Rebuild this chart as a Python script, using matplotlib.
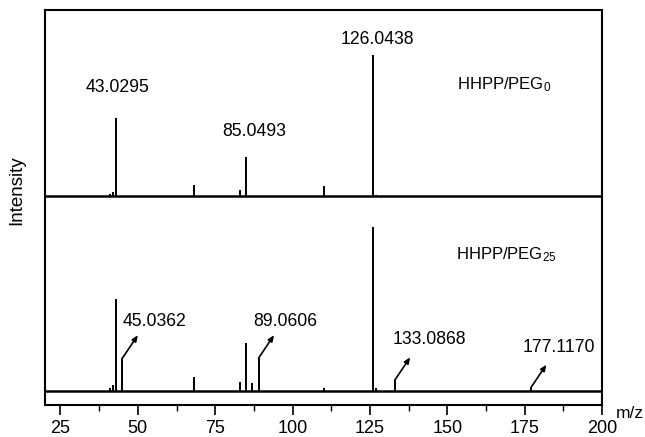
import matplotlib
matplotlib.use("Agg")
import matplotlib.pyplot as plt
from matplotlib.ticker import MultipleLocator

plt.rcParams['font.family'] = ['Liberation Sans', 'DejaVu Sans']
plt.rcParams['mathtext.fontset'] = 'custom'
plt.rcParams['mathtext.rm'] = 'Liberation Sans'
plt.rcParams['mathtext.it'] = 'Liberation Sans'

# upper spectrum: HHPP/PEG0 (relative intensity, % of base peak)
mz_peg0 = [41, 42, 43, 68, 83, 85, 110, 126, 127]
int_peg0 = [1.5, 2.5, 55, 8, 4, 28, 7, 100, 1]

# lower spectrum: HHPP/PEG25
mz_peg25 = [41, 42, 43, 45, 68, 83, 85, 87, 89, 110, 126, 127, 133, 177]
int_peg25 = [2, 3.5, 56, 20, 8.5, 5.5, 29, 5, 20, 2, 100, 2, 6.5, 2]

# peak labels
top_labels = ["43.0295", "85.0493", "126.0438"]
top_label_mz = [43.6, 87.5, 127.5]
top_label_y = [317, 273, 365]

arrow_mz = [45, 89, 133, 177]
arrow_labels = ["45.0362", "89.0606", "133.0868", "177.1170"]
arrow_text_x = [45.2, 87.2, 132.2, 174.2]
arrow_text_y = [83, 84, 66, 58]

# panel offsets / scale
base_top, scale_top = 209, 1.41
base_bot, scale_bot = 14, 1.64

fig = plt.figure(figsize=(6.45, 4.37), dpi=100)
ax = fig.add_axes([45 / 645, 1 - 405 / 437, 557 / 645, 395 / 437])

for mz, val in zip(mz_peg0, int_peg0):
    ax.vlines(mz, base_top, base_top + val * scale_top, color='black', lw=1.4)
for mz, val in zip(mz_peg25, int_peg25):
    ax.vlines(mz, base_bot, base_bot + val * scale_bot, color='black', lw=1.4)

ax.axhline(base_top, color='black', lw=1.8)
ax.axhline(base_bot, color='black', lw=1.8)

for lab, x, y in zip(top_labels, top_label_mz, top_label_y):
    ax.text(x, y, lab, ha='center', va='center', fontsize=12.7)

peak_tops = dict(zip(mz_peg25, int_peg25))
for mz, lab, tx, ty in zip(arrow_mz, arrow_labels, arrow_text_x, arrow_text_y):
    y0 = base_bot + peak_tops[mz] * scale_bot
    ax.annotate('', xy=(mz + 5, y0 + 23), xytext=(mz, y0),
                arrowprops=dict(arrowstyle='-|>,head_length=0.35,head_width=0.15',
                                color='black', lw=1.2, shrinkA=0, shrinkB=0))
    ax.text(tx, ty, lab, ha='left', va='center', fontsize=12.7)

ax.text(153.2, 320, r'HHPP/PEG$_0$', ha='left', va='center', fontsize=12)
ax.text(152.8, 150, r'HHPP/PEG$_{25}$', ha='left', va='center', fontsize=12)

ax.set_xlim(20, 200)
ax.set_ylim(0, 395)
ax.xaxis.set_major_locator(MultipleLocator(25))
ax.xaxis.set_minor_locator(MultipleLocator(12.5))
ax.tick_params(axis='x', which='major', direction='out', length=7, width=1.2,
               labelsize=13, pad=4)
ax.tick_params(axis='x', which='minor', direction='out', length=4, width=1.0)
ax.set_yticks([])
for sp in ax.spines.values():
    sp.set_linewidth(1.5)

fig.text(17 / 645, 1 - 190 / 437, 'Intensity', rotation=90, ha='center',
         va='center', fontsize=13.5)
fig.text(630 / 645, 1 - 413 / 437, 'm/z', ha='center', va='center', fontsize=12.5)

fig.savefig('out.png', dpi=100)
